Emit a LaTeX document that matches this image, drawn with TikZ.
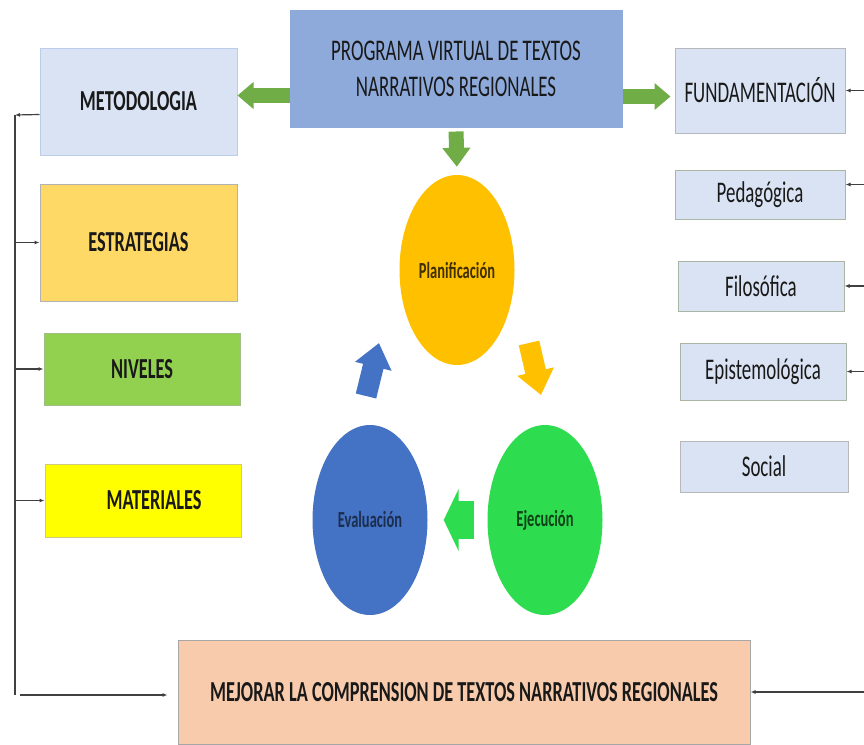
\documentclass[tikz,border=0pt]{standalone}
\usepackage{fontspec}
\setmainfont{Carlito}[FakeStretch=0.63]
\usepackage{tikz}
\usetikzlibrary{shapes.geometric}
\usetikzlibrary{arrows.meta}

\definecolor{progblue}{HTML}{8EAADB}
\definecolor{celeste}{HTML}{DAE3F3}
\definecolor{amarillo}{HTML}{FFD966}
\definecolor{verdenivel}{HTML}{92D050}
\definecolor{limon}{HTML}{FFFF00}
\definecolor{salmon}{HTML}{F8CBAD}
\definecolor{naranja}{HTML}{FFC000}
\definecolor{azul}{HTML}{4472C4}
\definecolor{verdeclaro}{HTML}{2EDC4F}
\definecolor{verdeflecha}{HTML}{70AD47}
\definecolor{linea}{HTML}{404040}

\begin{document}
\begin{tikzpicture}[x=1pt, y=-1pt,
   caja/.style={draw, line width=1pt, inner sep=0pt, text=black!90,
      font=\fontsize{30}{36}\selectfont},
   negrita/.style={font=\fontsize{29}{35}\selectfont\bfseries},
   circulo/.style={ellipse, inner sep=0pt, minimum width=115pt, minimum height=190pt,
      font=\fontsize{23}{27}\selectfont\bfseries},
   gordo/.style n args={3}{line width=#1pt, -{Triangle[width=#2pt, length=#3pt]}},
   conector/.style={draw=linea, line width=1.2pt, -{Latex[length=5pt, width=4pt]}}
]
   \useasboundingbox (0,0) rectangle (864,744);

   \node[name=prog, caja, fill=progblue, draw=progblue, align=center,
      minimum width=332pt, minimum height=117pt] at (456,68.5)
      {PROGRAMA VIRTUAL DE TEXTOS\\NARRATIVOS REGIONALES};

   \node[name=metod, caja, negrita, fill=celeste, draw=celeste!60!progblue,
      minimum width=197pt, minimum height=107pt] at (138.5,101.5) {METODOLOGIA};
   \node[name=estrat, caja, negrita, fill=amarillo, draw=black!30,
      minimum width=197pt, minimum height=117pt] at (138.5,242.5) {ESTRATEGIAS};
   \node[name=nivel, caja, negrita, fill=verdenivel, draw=verdenivel!70!black!60,
      minimum width=196pt, minimum height=72pt] at (142,369) {NIVELES};
   \node[name=mater, caja, negrita, fill=limon, draw=limon!60!black!50,
      minimum width=196pt, minimum height=73pt] at (143,500.5) {\hspace{22pt}MATERIALES};

   \node[name=fund, caja, fill=celeste, draw=celeste!50!black!50,
      minimum width=170pt, minimum height=85pt] at (760,90.5) {FUNDAMENTACIÓN};
   \node[name=pedag, caja, fill=celeste, draw=verdeflecha!40!black!40,
      minimum width=170pt, minimum height=49pt] at (760,194.5) {Pedagógica};
   \node[name=filos, caja, fill=celeste, draw=verdeflecha!40!black!40,
      minimum width=166pt, minimum height=50pt] at (761,286) {Filosófica};
   \node[name=epist, caja, fill=celeste, draw=verdeflecha!40!black!40,
      minimum width=166pt, minimum height=57pt] at (763,371.5) {Epistemológica};
   \node[name=social, caja, fill=celeste, draw=celeste!50!black!50,
      minimum width=168pt, minimum height=51pt] at (764,466.5) {Social};

   \node[name=mejor, caja, negrita, fill=salmon, draw=black!35,
      minimum width=572pt, minimum height=104pt] at (464,692)
      {MEJORAR LA COMPRENSION DE TEXTOS NARRATIVOS REGIONALES};

   \node[name=plan, circulo, fill=naranja, text=naranja!25!black] at (457,270) {Planificación};
   \node[name=eval, circulo, fill=azul, text=azul!40!black] at (370,520) {Evaluación};
   \node[name=ejec, circulo, fill=verdeclaro, text=verdeclaro!30!black] at (545,520) {Ejecución};

   \draw[gordo={15}{26}{16}, verdeflecha] ([yshift=-27pt]prog.west) -- ([yshift=-27pt]prog.west -| metod.east);
   \draw[gordo={15}{26}{16}, verdeflecha, shorten >=4pt] ([yshift=-28pt]prog.east) -- ([yshift=-28pt]prog.east -| fund.west);
   \draw[gordo={15}{27}{19}, verdeflecha, shorten <=4pt, shorten >=8pt] (prog.south) -- (plan.north);

   \coordinate (cicloA) at (529,343);
   \coordinate (cicloB) at (541,395);
   \coordinate (cicloC) at (366,396);
   \coordinate (cicloD) at (379,343);
   \draw[gordo={21}{36}{24}, naranja] (cicloA) -- (cicloB);
   \draw[gordo={38}{62}{15}, verdeclaro, shorten <=13pt, shorten >=16pt] (ejec.west) -- (eval.east);
   \draw[gordo={21}{36}{24}, azul] (cicloC) -- (cicloD);

   \coordinate (bustop) at (15,115);
   \coordinate (busbot) at (15,695);
   \coordinate (rbus) at (864,0);
   \coordinate (pedagin) at ([yshift=10pt]pedag.east);
   \draw[conector] ([yshift=-13pt]metod.west) -- (bustop);
   \draw[draw=linea, line width=1.2pt] (bustop) -- (busbot);
   \foreach \n in {estrat,nivel,mater}
      \draw[conector] (bustop |- \n.west) -- (\n.west);
   \draw[conector, shorten <=5pt, shorten >=10pt] (busbot) -- (busbot -| mejor.west);

   \foreach \n in {fund,filos,epist,mejor,pedagin}
      \draw[conector] (rbus |- \n) -- (\n);

\end{tikzpicture}
\end{document}
